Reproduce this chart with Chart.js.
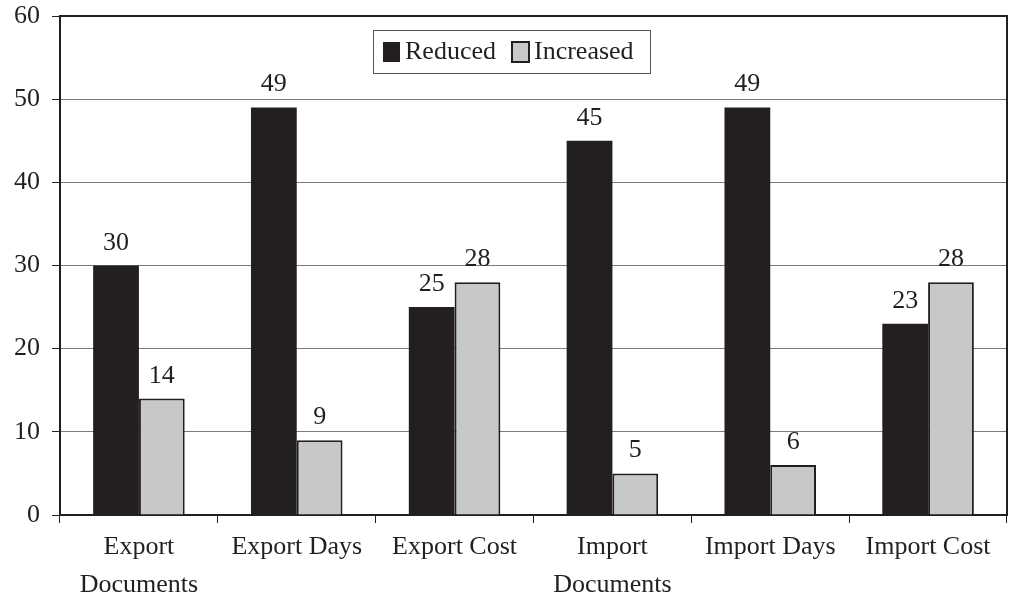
<!DOCTYPE html>
<html>
<head>
<meta charset="utf-8">
<title>Reduced vs Increased</title>
<script src="https://cdn.jsdelivr.net/npm/chart.js@4.4.1/dist/chart.umd.min.js"></script>
<style>
  body { margin: 0; background: #fff; }
  canvas { display: block; }
</style>
</head>
<body>
<canvas id="chart" width="1009" height="606"></canvas>
<script>
// data
const categories = [
  ["Export", "Documents"],
  "Export Days",
  "Export Cost",
  ["Import", "Documents"],
  "Import Days",
  "Import Cost",
];
const reduced = [30, 49, 25, 45, 49, 23];
const increased = [14, 9, 28, 5, 6, 28];
const yTicks = [0, 10, 20, 30, 40, 50, 60];

const INK = "#231f20";
const GREY = "#c7c8c9";
const FONT = "'Liberation Serif', 'Times New Roman', serif";

// frame on top and right of the plot area
const framePlugin = {
  id: "frame",
  afterDraw(chart) {
    const { ctx, chartArea: a } = chart;
    ctx.save();
    ctx.strokeStyle = INK;
    ctx.lineWidth = 2;
    ctx.beginPath();
    ctx.moveTo(a.left, a.top);
    ctx.lineTo(a.right, a.top);
    ctx.lineTo(a.right, a.bottom);
    ctx.stroke();
    ctx.restore();
  },
};

// value labels above each bar
const valueLabels = {
  id: "valueLabels",
  afterDatasetsDraw(chart) {
    const { ctx } = chart;
    ctx.save();
    ctx.fillStyle = INK;
    ctx.font = "26px " + FONT;
    ctx.textAlign = "center";
    ctx.textBaseline = "alphabetic";
    chart.data.datasets.forEach((ds, i) => {
      chart.getDatasetMeta(i).data.forEach((bar, j) => {
        ctx.fillText(String(ds.data[j]), bar.x, bar.y - 16);
      });
    });
    ctx.restore();
  },
};

// legend box sitting inside the plot
const boxLegend = {
  id: "boxLegend",
  afterDraw(chart) {
    const { ctx, chartArea: a } = chart;
    const x0 = a.left + 313, y0 = a.top + 14;
    ctx.save();
    ctx.fillStyle = "#fff";
    ctx.fillRect(x0, y0, 277, 43);
    ctx.strokeStyle = "#555";
    ctx.lineWidth = 1;
    ctx.strokeRect(x0 + 0.5, y0 + 0.5, 277, 43);

    ctx.font = "26px " + FONT;
    ctx.textBaseline = "middle";
    ctx.textAlign = "left";
    const cy = y0 + 22;

    ctx.fillStyle = INK;
    ctx.fillRect(x0 + 10, cy - 10, 17, 20);
    ctx.fillText(chart.data.datasets[0].label, x0 + 32, cy);

    ctx.fillStyle = GREY;
    ctx.fillRect(x0 + 139, cy - 10, 17, 20);
    ctx.strokeStyle = INK;
    ctx.lineWidth = 2;
    ctx.strokeRect(x0 + 139, cy - 10, 17, 20);
    ctx.fillStyle = INK;
    ctx.fillText(chart.data.datasets[1].label, x0 + 161, cy);
    ctx.restore();
  },
};

new Chart(document.getElementById("chart"), {
  type: "bar",
  data: {
    labels: categories,
    datasets: [
      {
        label: "Reduced",
        data: reduced,
        backgroundColor: INK,
        borderWidth: 0,
        categoryPercentage: 0.58,
        barPercentage: 1,
      },
      {
        label: "Increased",
        data: increased,
        backgroundColor: GREY,
        borderColor: INK,
        borderWidth: 2,
        borderSkipped: "bottom",
        categoryPercentage: 0.58,
        barPercentage: 1,
      },
    ],
  },
  options: {
    responsive: false,
    animation: false,
    layout: { padding: { top: 16, right: 2, left: 0, bottom: 0 } },
    plugins: {
      legend: { display: false },
      tooltip: { enabled: false },
    },
    scales: {
      x: {
        grid: {
          drawOnChartArea: false,
          tickLength: 8,
          tickColor: INK,
          tickWidth: 1,
        },
        border: { color: INK, width: 2 },
        ticks: {
          color: INK,
          font: { family: FONT, size: 26, lineHeight: 1.46 },
          padding: 5,
          maxRotation: 0,
          autoSkip: false,
        },
        afterFit(scale) { scale.height = 91; },
      },
      y: {
        min: 0,
        max: 60,
        afterBuildTicks(scale) {
          scale.ticks = yTicks.map((v) => ({ value: v }));
        },
        grid: {
          color: "#7a7a7a",
          lineWidth: 1,
          tickLength: 8,
          tickColor: INK,
        },
        border: { color: INK, width: 2 },
        ticks: {
          color: INK,
          font: { family: FONT, size: 26 },
          padding: 12,
        },
        afterFit(scale) {
          scale.width = 60;
          scale.paddingTop = 0;
          scale.paddingBottom = 0;
        },
      },
    },
  },
  plugins: [valueLabels, framePlugin, boxLegend],
});
</script>
</body>
</html>
